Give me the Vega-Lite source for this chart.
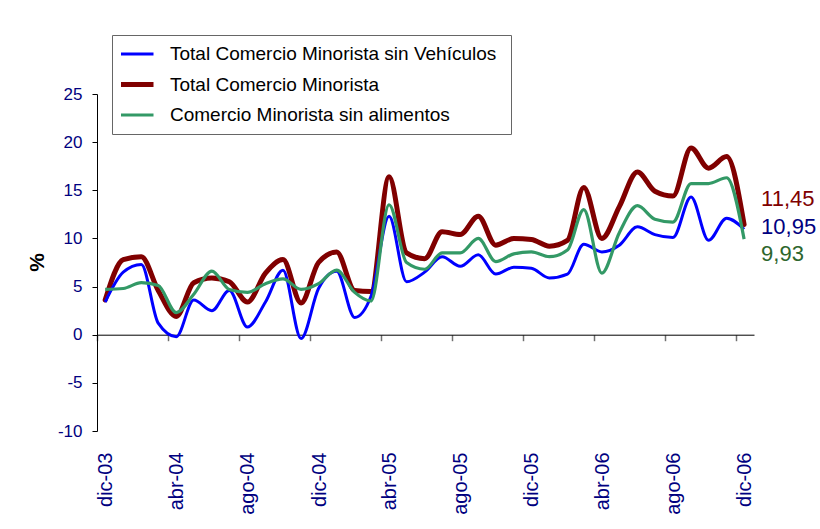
{
  "$schema": "https://vega.github.io/schema/vega-lite/v6.json",
  "width": 657,
  "height": 337,
  "autosize": {"type": "none"},
  "padding": {"left": 97, "top": 94, "right": 66, "bottom": 98},
  "background": "white",
  "config": {
    "view": {"stroke": null},
    "font": "Liberation Sans",
    "locale": {"number": {"decimal": ",", "thousands": ".", "grouping": [3], "currency": ["", " €"]}}
  },
  "data": {
    "values": [
      {"m": "2003-12-15", "Total Comercio Minorista sin  Vehículos": 3.4, "Total Comercio Minorista": 3.6, "Comercio Minorista sin alimentos": 4.7},
      {"m": "2004-01-15", "Total Comercio Minorista sin  Vehículos": 6.5, "Total Comercio Minorista": 7.8, "Comercio Minorista sin alimentos": 4.8},
      {"m": "2004-02-15", "Total Comercio Minorista sin  Vehículos": 7.3, "Total Comercio Minorista": 8.1, "Comercio Minorista sin alimentos": 5.4},
      {"m": "2004-03-15", "Total Comercio Minorista sin  Vehículos": 1.2, "Total Comercio Minorista": 4.6, "Comercio Minorista sin alimentos": 5.1},
      {"m": "2004-04-15", "Total Comercio Minorista sin  Vehículos": -0.2, "Total Comercio Minorista": 1.9, "Comercio Minorista sin alimentos": 2.3},
      {"m": "2004-05-15", "Total Comercio Minorista sin  Vehículos": 3.6, "Total Comercio Minorista": 5.4, "Comercio Minorista sin alimentos": 4.2},
      {"m": "2004-06-15", "Total Comercio Minorista sin  Vehículos": 2.5, "Total Comercio Minorista": 5.9, "Comercio Minorista sin alimentos": 6.6},
      {"m": "2004-07-15", "Total Comercio Minorista sin  Vehículos": 4.6, "Total Comercio Minorista": 5.5, "Comercio Minorista sin alimentos": 4.7},
      {"m": "2004-08-15", "Total Comercio Minorista sin  Vehículos": 0.8, "Total Comercio Minorista": 3.4, "Comercio Minorista sin alimentos": 4.4},
      {"m": "2004-09-15", "Total Comercio Minorista sin  Vehículos": 3.4, "Total Comercio Minorista": 6.4, "Comercio Minorista sin alimentos": 5.3},
      {"m": "2004-10-15", "Total Comercio Minorista sin  Vehículos": 6.7, "Total Comercio Minorista": 7.8, "Comercio Minorista sin alimentos": 5.8},
      {"m": "2004-11-15", "Total Comercio Minorista sin  Vehículos": -0.4, "Total Comercio Minorista": 3.3, "Comercio Minorista sin alimentos": 4.7},
      {"m": "2004-12-15", "Total Comercio Minorista sin  Vehículos": 4.8, "Total Comercio Minorista": 7.5, "Comercio Minorista sin alimentos": 5.3},
      {"m": "2005-01-15", "Total Comercio Minorista sin  Vehículos": 6.6, "Total Comercio Minorista": 8.6, "Comercio Minorista sin alimentos": 6.7},
      {"m": "2005-02-15", "Total Comercio Minorista sin  Vehículos": 1.8, "Total Comercio Minorista": 4.6, "Comercio Minorista sin alimentos": 4.4},
      {"m": "2005-03-15", "Total Comercio Minorista sin  Vehículos": 4.0, "Total Comercio Minorista": 4.5, "Comercio Minorista sin alimentos": 3.5},
      {"m": "2005-04-15", "Total Comercio Minorista sin  Vehículos": 12.3, "Total Comercio Minorista": 16.4, "Comercio Minorista sin alimentos": 13.5},
      {"m": "2005-05-15", "Total Comercio Minorista sin  Vehículos": 5.5, "Total Comercio Minorista": 8.5, "Comercio Minorista sin alimentos": 7.5},
      {"m": "2005-06-15", "Total Comercio Minorista sin  Vehículos": 6.5, "Total Comercio Minorista": 7.9, "Comercio Minorista sin alimentos": 6.8},
      {"m": "2005-07-15", "Total Comercio Minorista sin  Vehículos": 8.1, "Total Comercio Minorista": 10.7, "Comercio Minorista sin alimentos": 8.5},
      {"m": "2005-08-15", "Total Comercio Minorista sin  Vehículos": 7.1, "Total Comercio Minorista": 10.4, "Comercio Minorista sin alimentos": 8.5},
      {"m": "2005-09-15", "Total Comercio Minorista sin  Vehículos": 8.3, "Total Comercio Minorista": 12.3, "Comercio Minorista sin alimentos": 10.0},
      {"m": "2005-10-15", "Total Comercio Minorista sin  Vehículos": 6.3, "Total Comercio Minorista": 9.3, "Comercio Minorista sin alimentos": 7.6},
      {"m": "2005-11-15", "Total Comercio Minorista sin  Vehículos": 7.0, "Total Comercio Minorista": 10.0, "Comercio Minorista sin alimentos": 8.4},
      {"m": "2005-12-15", "Total Comercio Minorista sin  Vehículos": 6.9, "Total Comercio Minorista": 9.9, "Comercio Minorista sin alimentos": 8.6},
      {"m": "2006-01-15", "Total Comercio Minorista sin  Vehículos": 5.9, "Total Comercio Minorista": 9.2, "Comercio Minorista sin alimentos": 8.1},
      {"m": "2006-02-15", "Total Comercio Minorista sin  Vehículos": 6.3, "Total Comercio Minorista": 9.8, "Comercio Minorista sin alimentos": 8.8},
      {"m": "2006-03-15", "Total Comercio Minorista sin  Vehículos": 9.4, "Total Comercio Minorista": 15.3, "Comercio Minorista sin alimentos": 13.0},
      {"m": "2006-04-15", "Total Comercio Minorista sin  Vehículos": 8.6, "Total Comercio Minorista": 10.0, "Comercio Minorista sin alimentos": 6.4},
      {"m": "2006-05-15", "Total Comercio Minorista sin  Vehículos": 9.3, "Total Comercio Minorista": 13.3, "Comercio Minorista sin alimentos": 10.6},
      {"m": "2006-06-15", "Total Comercio Minorista sin  Vehículos": 11.2, "Total Comercio Minorista": 16.9, "Comercio Minorista sin alimentos": 13.4},
      {"m": "2006-07-15", "Total Comercio Minorista sin  Vehículos": 10.4, "Total Comercio Minorista": 14.9, "Comercio Minorista sin alimentos": 12.0},
      {"m": "2006-08-15", "Total Comercio Minorista sin  Vehículos": 10.1, "Total Comercio Minorista": 14.4, "Comercio Minorista sin alimentos": 11.7},
      {"m": "2006-09-15", "Total Comercio Minorista sin  Vehículos": 14.3, "Total Comercio Minorista": 19.4, "Comercio Minorista sin alimentos": 15.7},
      {"m": "2006-10-15", "Total Comercio Minorista sin  Vehículos": 9.8, "Total Comercio Minorista": 17.3, "Comercio Minorista sin alimentos": 15.7},
      {"m": "2006-11-15", "Total Comercio Minorista sin  Vehículos": 12.1, "Total Comercio Minorista": 18.5, "Comercio Minorista sin alimentos": 16.3},
      {"m": "2006-12-15", "Total Comercio Minorista sin  Vehículos": 10.95, "Total Comercio Minorista": 11.45, "Comercio Minorista sin alimentos": 9.93}
    ]
  },
  "transform": [
    {"fold": ["Total Comercio Minorista sin  Vehículos", "Total Comercio Minorista", "Comercio Minorista sin alimentos"], "as": ["serie", "v"]}
  ],
  "resolve": {"axis": {"x": "independent"}},
  "layer": [
    {
      "transform": [{"filter": "datum.serie == 'Total Comercio Minorista'"}],
      "mark": {"type": "line", "strokeWidth": 5, "interpolate": "monotone", "strokeJoin": "round", "strokeCap": "round"},
      "encoding": {
        "x": {
          "field": "m", "type": "temporal",
          "scale": {"type": "utc", "domain": [{"year": 2003, "month": 12, "date": 1, "utc": true}, {"year": 2007, "month": 1, "date": 1, "utc": true}]},
          "axis": {
            "title": null, "grid": false, "domain": false, "ticks": false, "tickSize": 0,
            "values": [
              {"year": 2003, "month": 12, "date": 16, "utc": true},
              {"year": 2004, "month": 4, "date": 16, "utc": true},
              {"year": 2004, "month": 8, "date": 16, "utc": true},
              {"year": 2004, "month": 12, "date": 16, "utc": true},
              {"year": 2005, "month": 4, "date": 16, "utc": true},
              {"year": 2005, "month": 8, "date": 16, "utc": true},
              {"year": 2005, "month": 12, "date": 16, "utc": true},
              {"year": 2006, "month": 4, "date": 16, "utc": true},
              {"year": 2006, "month": 8, "date": 16, "utc": true},
              {"year": 2006, "month": 12, "date": 16, "utc": true}
            ],
            "labelExpr": "['ene','feb','mar','abr','may','jun','jul','ago','sep','oct','nov','dic'][utcmonth(datum.value)] + '-' + utcFormat(datum.value, '%y')",
            "labelAngle": -90, "labelAlign": "right", "labelBaseline": "middle",
            "labelPadding": 21, "labelFontSize": 20, "labelColor": "#000080",
            "labelFont": "Liberation Sans", "labelOverlap": false, "labelFlush": false
          }
        },
        "y": {
          "field": "v", "type": "quantitative",
          "scale": {"domain": [-10, 25], "nice": false, "zero": false},
          "axis": {
            "values": [-10, -5, 0, 5, 10, 15, 20, 25],
            "labelExpr": "toString(datum.value)",
            "grid": false, "domainColor": "black", "tickColor": "black", "tickSize": 5,
            "labelPadding": 10, "labelFontSize": 17, "labelColor": "#000080", "labelFont": "Liberation Sans",
            "title": "%", "titleFontSize": 21, "titleFontWeight": "bold", "titleColor": "black",
            "titleX": -60, "titleY": 168, "titleAngle": -90, "titleAlign": "center", "titleBaseline": "middle"
          }
        },
        "color": {
          "field": "serie", "type": "nominal",
          "scale": {
            "domain": ["Total Comercio Minorista sin  Vehículos", "Total Comercio Minorista", "Comercio Minorista sin alimentos"],
            "range": ["#0000FF", "#800000", "#339966"]
          },
          "legend": {
            "title": null, "orient": "none", "legendX": 15, "legendY": -59,
            "symbolType": "stroke", "symbolSize": 2116, "clipHeight": 20,
            "rowPadding": 10.5, "padding": 9, "labelOffset": 30, "labelLimit": 0,
            "labelFontSize": 19, "labelColor": "black", "labelFont": "Liberation Sans",
            "fillColor": "white", "strokeColor": "#666666", "cornerRadius": 0,
            "encode": {
              "symbols": {"update": {"strokeWidth": {"signal": "datum.label == 'Total Comercio Minorista' ? 5 : 3"}}}
            }
          }
        }
      }
    },
    {
      "transform": [{"filter": "datum.serie == 'Total Comercio Minorista sin  Vehículos'"}],
      "mark": {"type": "line", "strokeWidth": 3, "interpolate": "monotone", "strokeJoin": "round"},
      "encoding": {
        "x": {
          "field": "m", "type": "temporal",
          "axis": {
            "orient": "top",
            "title": null, "grid": false, "labels": false, "domain": true, "ticks": true,
            "domainColor": "black", "tickColor": "#707070", "tickSize": -6, "tickWidth": 1.5,
            "offset": -240.7,
            "values": [
              {"year": 2003, "month": 12, "date": 1, "utc": true},
              {"year": 2004, "month": 4, "date": 1, "utc": true},
              {"year": 2004, "month": 8, "date": 1, "utc": true},
              {"year": 2004, "month": 12, "date": 1, "utc": true},
              {"year": 2005, "month": 4, "date": 1, "utc": true},
              {"year": 2005, "month": 8, "date": 1, "utc": true},
              {"year": 2005, "month": 12, "date": 1, "utc": true},
              {"year": 2006, "month": 4, "date": 1, "utc": true},
              {"year": 2006, "month": 8, "date": 1, "utc": true},
              {"year": 2006, "month": 12, "date": 1, "utc": true}
            ]
          }
        },
        "y": {"field": "v", "type": "quantitative"},
        "color": {"field": "serie", "type": "nominal"}
      }
    },
    {
      "transform": [{"filter": "datum.serie == 'Comercio Minorista sin alimentos'"}],
      "mark": {"type": "line", "strokeWidth": 3.2, "interpolate": "monotone", "strokeJoin": "round"},
      "encoding": {
        "x": {"field": "m", "type": "temporal", "axis": null},
        "y": {"field": "v", "type": "quantitative"},
        "color": {"field": "serie", "type": "nominal"}
      }
    },
    {
      "transform": [{"filter": "datum.serie == 'Total Comercio Minorista' && utcyear(datum.m) == 2006 && utcmonth(datum.m) == 11"}],
      "mark": {"type": "text", "align": "left", "baseline": "middle", "dx": 17, "dy": -25.5, "fontSize": 22, "color": "#800000", "font": "Liberation Sans"},
      "encoding": {
        "x": {"field": "m", "type": "temporal", "axis": null},
        "y": {"field": "v", "type": "quantitative"},
        "text": {"field": "v", "type": "quantitative", "format": ".2f", "formatType": "number"}
      }
    },
    {
      "transform": [{"filter": "datum.serie == 'Total Comercio Minorista sin  Vehículos' && utcyear(datum.m) == 2006 && utcmonth(datum.m) == 11"}],
      "mark": {"type": "text", "align": "left", "baseline": "middle", "dx": 17, "dy": -2.6, "fontSize": 22, "color": "#000080", "font": "Liberation Sans"},
      "encoding": {
        "x": {"field": "m", "type": "temporal", "axis": null},
        "y": {"field": "v", "type": "quantitative"},
        "text": {"field": "v", "type": "quantitative", "format": ".2f", "formatType": "number"}
      }
    },
    {
      "transform": [{"filter": "datum.serie == 'Comercio Minorista sin alimentos' && utcyear(datum.m) == 2006 && utcmonth(datum.m) == 11"}],
      "mark": {"type": "text", "align": "left", "baseline": "middle", "dx": 17, "dy": 15, "fontSize": 22, "color": "#2D662D", "font": "Liberation Sans"},
      "encoding": {
        "x": {"field": "m", "type": "temporal", "axis": null},
        "y": {"field": "v", "type": "quantitative"},
        "text": {"field": "v", "type": "quantitative", "format": ".2f", "formatType": "number"}
      }
    }
  ]
}
